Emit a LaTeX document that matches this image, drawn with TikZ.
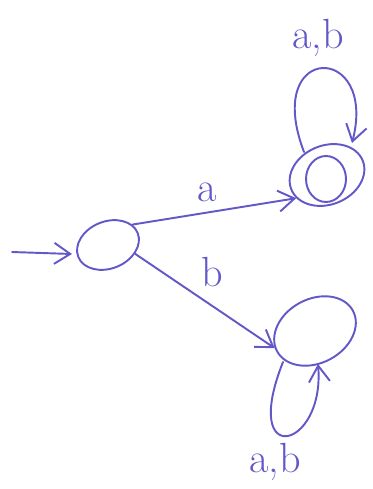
\documentclass[tikz,border=0pt]{standalone}
\usetikzlibrary{shapes.geometric,arrows.meta}
\definecolor{ink}{RGB}{98,88,200}
\begin{document}
\begin{tikzpicture}[x=0.02cm,y=-0.02cm,
  hand/.style={draw=ink,line width=1.1pt,line cap=round,line join=round},
  st/.style={hand,ellipse,inner sep=0pt},
  tr/.style={hand,-{Straight Barb[length=0.32cm,width=0.42cm,line width=1.1pt]}},
  lbl/.style={text=ink,font=\fontsize{24}{24}\selectfont,inner sep=0pt}]
\useasboundingbox (0,0) rectangle (372,489);
% states
\node[st,minimum width=1.28cm,minimum height=0.94cm,rotate=22] (s0) at (108,245) {};
\node[st,minimum width=1.54cm,minimum height=1.18cm,rotate=22] (s1) at (327,175) {};
\node[st,minimum width=0.8cm,minimum height=0.92cm] (s1in) at (326,179) {};
\node[st,minimum width=1.72cm,minimum height=1.28cm,rotate=28] (s2) at (315,331) {};
% initial arrow
\coordinate (init) at (12,252);
\coordinate (initend) at (72,254);
\draw[tr] (init) -- (initend);
% transitions
\draw[tr] (s0.18) -- (s1.195);
\draw[tr] (s0.-40) -- (s2.175);
% self loops
\coordinate (l1a) at (304,152);
\coordinate (l1b) at (352,143);
\draw[tr] (l1a) .. controls (262,42) and (378,42) .. (l1b);
\coordinate (l2a) at (283,362);
\coordinate (l2b) at (318,364);
\draw[tr] (l2a) .. controls (240,470) and (325,450) .. (l2b);
% labels
\node[lbl] (la) at (207,192) {a};
\node[lbl] (lb) at (212,272) {b};
\node[lbl] (lab1) at (318,38) {a,b};
\node[lbl] (lab2) at (275,462) {a,b};
\end{tikzpicture}
\end{document}
